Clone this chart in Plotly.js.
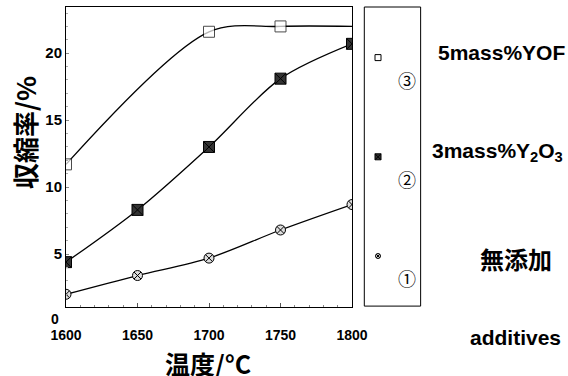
<!DOCTYPE html>
<html>
<head>
<meta charset="utf-8">
<script src="https://cdn.plot.ly/plotly-3.0.1.min.js"></script>
<style>html,body{margin:0;padding:0;background:#fff;}#chart{width:568px;height:376px;}</style>
</head>
<body>
<div id="chart"></div>
<script>
// Data
const temps = [1600, 1650, 1700, 1750, 1800];
const tempsYOF = [1600, 1700, 1750, 1800];
const yofValues = [11.7, 21.6, 22.0, 22.0];          // ③ 5mass%YOF
const y2o3Values = [4.4, 8.3, 13.0, 18.1, 20.7];     // ② 3mass%Y2O3
const noneValues = [2.0, 3.4, 4.7, 6.8, 8.7];        // ① 無添加
const xTicks = [1600, 1650, 1700, 1750, 1800];
const yTicks = [5, 10, 15, 20];
const seriesNames = ['③', '②', '①'];
const sideLabels = ['5mass%YOF', '3mass%Y<sub>2</sub>O<sub>3</sub>', '無添加', 'additives'];

const LAT = '"Liberation Sans", Arial, sans-serif';
const JP = '"Noto Sans CJK JP", sans-serif';
const lineStyle = {color: '#000', width: 1.3, shape: 'spline', smoothing: 0.9};

const traces = [
  {x: tempsYOF, y: yofValues, mode: 'lines+markers', showlegend: false, line: lineStyle,
   marker: {symbol: 'square', size: [11, 11, 11, 0], color: '#fff', line: {color: '#000', width: 1}}},
  {x: temps, y: y2o3Values, mode: 'lines+markers', showlegend: false, line: lineStyle,
   marker: {symbol: 'square-x', size: 11, color: '#333', line: {color: '#000', width: 1}}},
  {x: temps, y: noneValues, mode: 'lines+markers', showlegend: false, line: lineStyle,
   marker: {symbol: 'circle-x', size: 10, color: '#ddd', line: {color: '#000', width: 1}}},
  // legend-only entries
  {x: [null], y: [null], mode: 'markers', name: '<br><br>' + seriesNames[0], legendgroup: 'a',
   marker: {symbol: 'square', size: 6, color: '#fff', line: {color: '#000', width: 1}}},
  {x: [null], y: [null], mode: 'markers', name: '<br><br>' + seriesNames[1], legendgroup: 'b',
   marker: {symbol: 'square-x', size: 6, color: '#333', line: {color: '#000', width: 1}}},
  {x: [null], y: [null], mode: 'markers', name: '<br><br>' + seriesNames[2], legendgroup: 'c',
   marker: {symbol: 'circle-x', size: 5, color: '#ddd', line: {color: '#000', width: 1}}}
];

const layout = {
  width: 568, height: 376,
  margin: {l: 66, r: 216, t: 7, b: 69},
  paper_bgcolor: '#fff', plot_bgcolor: '#fff',
  showlegend: true,
  legend: {x: 1.021, xanchor: 'left', y: 0.97, yanchor: 'top', bgcolor: 'rgba(0,0,0,0)', borderwidth: 0,
           font: {family: JP, size: 18, color: '#000'}, tracegroupgap: 26, itemwidth: 30},
  xaxis: {
    range: [1600, 1800], tickvals: xTicks, ticktext: xTicks.map(String),
    showgrid: false, zeroline: false, showline: true, linecolor: '#000', linewidth: 1, mirror: true,
    ticks: 'inside', ticklen: 4, tickcolor: '#555',
    minor: {dtick: 10, ticks: 'inside', ticklen: 2, tickcolor: '#888'},
    ticklabelstandoff: 15,
    tickfont: {family: LAT, size: 14, color: '#000', weight: 'bold'},
    automargin: false
  },
  yaxis: {
    range: [1.05, 23.45], tickvals: yTicks, ticktext: yTicks.map(String),
    showgrid: false, zeroline: false, showline: true, linecolor: '#000', linewidth: 1, mirror: true,
    ticks: 'inside', ticklen: 3, tickcolor: '#888',
    minor: {dtick: 1, ticks: 'inside', ticklen: 2, tickcolor: '#aaa'},
    tickfont: {family: LAT, size: 15, color: '#000', weight: 'bold'},
    automargin: false
  },
  shapes: [
    {type: 'rect', xref: 'paper', yref: 'paper', x0: 1.043, x1: 1.24, y0: 0.003, y1: 1, line: {color: '#000', width: 1}}
  ],
  annotations: [
    {text: '温度/°C', xref: 'paper', yref: 'paper', x: 0.497, y: -0.185, xanchor: 'center', yanchor: 'middle', showarrow: false,
     font: {family: JP, size: 25, color: '#000', weight: 'bold'}},
    {text: '収縮率/%', xref: 'paper', yref: 'paper', x: -0.147, y: 0.583, xanchor: 'center', yanchor: 'middle', textangle: -90, showarrow: false,
     font: {family: JP, size: 26, color: '#000', weight: 'bold'}},
    {text: '0', xref: 'paper', yref: 'paper', x: -0.038, y: -0.04, xanchor: 'center', yanchor: 'middle', showarrow: false,
     font: {family: LAT, size: 14, color: '#000', weight: 'bold'}},
    {text: sideLabels[0], xref: 'paper', yref: 'paper', x: 1.524, y: 0.85, xanchor: 'center', yanchor: 'middle', showarrow: false,
     font: {family: LAT, size: 21, color: '#000', weight: 'bold'}},
    {text: sideLabels[1], xref: 'paper', yref: 'paper', x: 1.51, y: 0.517, xanchor: 'center', yanchor: 'middle', showarrow: false,
     font: {family: LAT, size: 21, color: '#000', weight: 'bold'}},
    {text: sideLabels[2], xref: 'paper', yref: 'paper', x: 1.573, y: 0.163, xanchor: 'center', yanchor: 'middle', showarrow: false,
     font: {family: JP, size: 24, color: '#000', weight: 'bold'}},
    {text: sideLabels[3], xref: 'paper', yref: 'paper', x: 1.573, y: -0.1, xanchor: 'center', yanchor: 'middle', showarrow: false,
     font: {family: LAT, size: 21, color: '#000', weight: 'bold'}}
  ]
};

Plotly.newPlot('chart', traces, layout, {displayModeBar: false, staticPlot: true});
</script>
</body>
</html>
